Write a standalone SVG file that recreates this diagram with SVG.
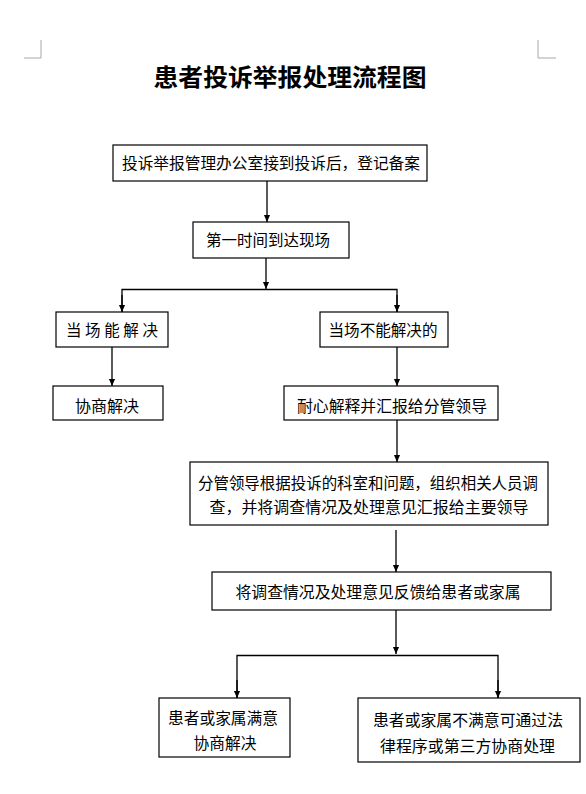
<svg xmlns="http://www.w3.org/2000/svg" width="586" height="794" viewBox="0 0 586 794">
<style>
.box{fill:#fff;stroke:#000;stroke-width:1.2}
.t{font-family:"Noto Sans CJK SC","Liberation Sans",sans-serif;font-size:15.5px;fill:#000;text-anchor:middle}
.title{font-family:"Noto Sans CJK SC","Liberation Sans",sans-serif;font-size:24px;font-weight:bold;fill:#000;text-anchor:middle}
.ln{fill:none;stroke:#000;stroke-width:1.3}
.crop{fill:none;stroke:#a8a8a8;stroke-width:1}
</style>
<defs>
<marker id="a" markerWidth="7" markerHeight="8" refX="8" refY="3.5" orient="auto" markerUnits="userSpaceOnUse" viewBox="0 0 8 7">
<path d="M0,0 L8,3.5 L0,7 Z" fill="#000"/>
</marker>
</defs>
<g id="cropmarks">
<path class="crop" d="M24,58 H41 V40"/>
<path class="crop" d="M538,40 V58 H556"/>
</g>
<text class="title" x="290" y="86" textLength="273" lengthAdjust="spacingAndGlyphs">患者投诉举报处理流程图</text>
<g id="connectors">
<line class="ln" x1="267" y1="181" x2="267" y2="222" marker-end="url(#a)"/>
<line class="ln" x1="266" y1="258" x2="266" y2="289" marker-end="url(#a)"/>
<polyline class="ln" points="122,312 122,289.5 397,289.5 397,312"/>
<line class="ln" x1="122" y1="295" x2="122" y2="312" marker-end="url(#a)"/>
<line class="ln" x1="397" y1="295" x2="397" y2="312" marker-end="url(#a)"/>
<line class="ln" x1="112" y1="347" x2="112" y2="386" marker-end="url(#a)"/>
<line class="ln" x1="397" y1="347" x2="397" y2="386" marker-end="url(#a)"/>
<line class="ln" x1="397" y1="420" x2="397" y2="462" marker-end="url(#a)"/>
<line class="ln" x1="396" y1="530" x2="396" y2="572" marker-end="url(#a)"/>
<line class="ln" x1="396" y1="610" x2="396" y2="654" marker-end="url(#a)"/>
<polyline class="ln" points="237,698 237,655.5 498,655.5 498,698"/>
<line class="ln" x1="237" y1="680" x2="237" y2="698" marker-end="url(#a)"/>
<line class="ln" x1="498" y1="680" x2="498" y2="698" marker-end="url(#a)"/>
</g>
<g id="n1"><rect class="box" x="113" y="145" width="314" height="36"/><text class="t" x="271" y="168.5" textLength="298" lengthAdjust="spacingAndGlyphs">投诉举报管理办公室接到投诉后，登记备案</text></g>
<g id="n2"><rect class="box" x="193" y="222" width="156" height="36"/><text class="t" x="268" y="245.5" textLength="124" lengthAdjust="spacingAndGlyphs">第一时间到达现场</text></g>
<g id="n3"><rect class="box" x="56" y="312" width="112" height="35"/><text class="t" x="112" y="336" textLength="92" lengthAdjust="spacing">当场能解决</text></g>
<g id="n4"><rect class="box" x="320" y="312" width="128" height="35"/><text class="t" x="383" y="336" textLength="109" lengthAdjust="spacingAndGlyphs">当场不能解决的</text></g>
<g id="n5"><rect class="box" x="53" y="386" width="110" height="34"/><text class="t" x="107" y="412" textLength="64" lengthAdjust="spacingAndGlyphs">协商解决</text></g>
<g id="n6"><rect class="box" x="284" y="386" width="214" height="34"/><text class="t" x="392" y="412" textLength="190" lengthAdjust="spacingAndGlyphs">耐心解释并汇报给分管领导</text></g>
<g id="n7"><rect class="box" x="190" y="462" width="358" height="63"/><text class="t" x="368" y="488.5" textLength="340" lengthAdjust="spacingAndGlyphs">分管领导根据投诉的科室和问题，组织相关人员调</text><text class="t" x="369" y="512.5" textLength="319" lengthAdjust="spacingAndGlyphs">查，并将调查情况及处理意见汇报给主要领导</text></g>
<g id="n8"><rect class="box" x="212" y="572" width="339" height="38"/><text class="t" x="378" y="598" textLength="285" lengthAdjust="spacingAndGlyphs">将调查情况及处理意见反馈给患者或家属</text></g>
<g id="n9"><rect class="box" x="159" y="698" width="131" height="59"/><text class="t" x="223" y="723.5" textLength="110" lengthAdjust="spacingAndGlyphs">患者或家属满意</text><text class="t" x="225" y="748.5" textLength="63" lengthAdjust="spacingAndGlyphs">协商解决</text></g>
<g id="n10"><rect class="box" x="358" y="698" width="222" height="64"/><text class="t" x="468" y="725.5" textLength="190" lengthAdjust="spacingAndGlyphs">患者或家属不满意可通过法</text><text class="t" x="467.5" y="751.5" textLength="175" lengthAdjust="spacingAndGlyphs">律程序或第三方协商处理</text></g>
</svg>
